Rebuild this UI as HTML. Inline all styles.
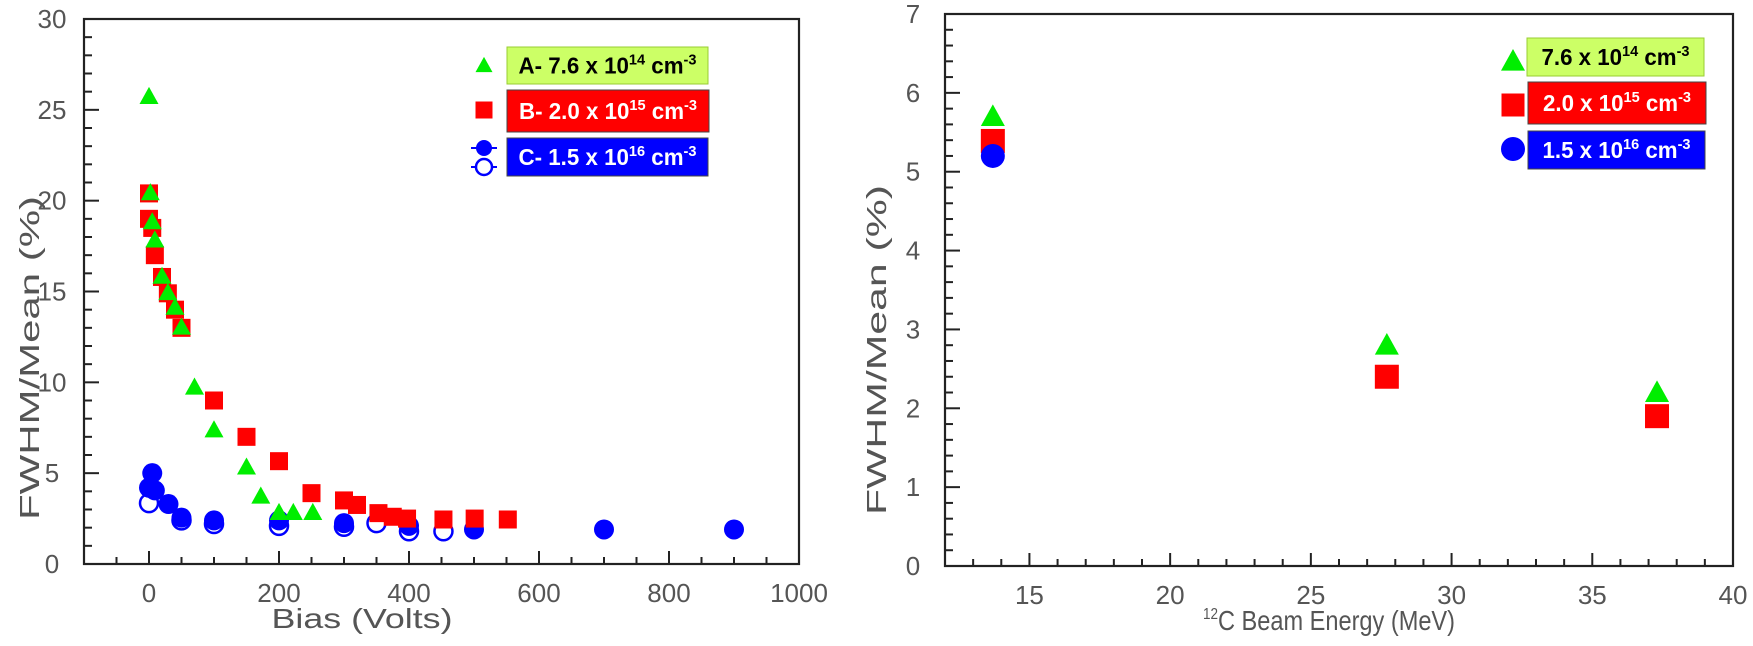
<!DOCTYPE html>
<html><head><meta charset="utf-8"><style>
html,body{margin:0;padding:0;background:#fff;}
svg{display:block;font-family:"Liberation Sans",sans-serif;}
</style></head><body>
<svg id="s" width="1753" height="646" viewBox="0 0 1753 646"></svg>
<script>
// Left chart data
const aX=[0,2,5,9,20,29,40,50,70,100,150,172,200,222,252];
const aY=[25.7,20.4,18.8,17.8,15.8,14.9,14.1,13.0,9.7,7.35,5.3,3.7,2.8,2.8,2.8];
const bX=[0,0,5,9,20,29,40,50,100,150,200,250,300,320,353,375,397,453,501,552];
const bY=[20.4,19.0,18.5,17.0,15.8,14.9,14.0,13.0,9.0,7.0,5.66,3.9,3.5,3.25,2.8,2.6,2.5,2.45,2.5,2.45];
const cOpenX=[0,50,100,200,300,350,400,453];
const cOpenY=[3.35,2.4,2.2,2.1,2.05,2.25,1.8,1.8];
const cX=[5,0,9,30,50,100,200,300,400,500,700,900];
const cY=[5.0,4.2,4.05,3.3,2.55,2.4,2.4,2.25,2.1,1.9,1.9,1.9];
const leftXTicks=[0,200,400,600,800,1000];
const leftYTicks=[0,5,10,15,20,25,30];
// Right chart data
const rX=[13.7,27.7,37.3];
const rA=[5.69,2.79,2.19];
const rB=[5.39,2.4,1.9];
const rCX=[13.7];
const rC=[5.2];
const rightXTicks=[15,20,25,30,35,40];
const rightYTicks=[0,1,2,3,4,5,6,7];

const NS="http://www.w3.org/2000/svg";
const svg=document.getElementById('s');
function mk(tag,at,parent){const e=document.createElementNS(NS,tag);for(const k in at)e.setAttribute(k,at[k]);(parent||svg).appendChild(e);return e;}

function axes(L,R,T,B,xmin,xmax,ymin,ymax,xt,yt,xminor,yminor,prefix){
  const sx=v=>L+(v-xmin)/(xmax-xmin)*(R-L);
  const sy=v=>B-(v-ymin)/(ymax-ymin)*(B-T);
  const g=mk('g',{});
  
  
  const fr=mk('rect',{x:L,y:T,width:R-L,height:B-T,fill:'none',stroke:'#222','stroke-width':2.2},g);
  
  
  for(let v=xmin;v<=xmax+1e-9;v+=xminor){
    const major=xt.some(t=>Math.abs(t-v)<1e-6);
    mk('line',{x1:sx(v),x2:sx(v),y1:B,y2:B-(major?13:7),stroke:'#222','stroke-width':2},g);
  }
  for(let v=ymin;v<=ymax+1e-9;v+=yminor){
    const major=yt.some(t=>Math.abs(t-v)<1e-6);
    mk('line',{x1:L,x2:L+(major?15:8),y1:sy(v),y2:sy(v),stroke:'#222','stroke-width':2},g);
  }
  xt.forEach(t=>{const e=mk('text',{x:sx(t),y:B+38,'text-anchor':'middle','font-size':26,fill:'#555'},g);e.textContent=t;
    
    });
  yt.forEach(t=>{const e=mk('text',{x:L-32,y:sy(t)+9,'text-anchor':'middle','font-size':26,fill:'#555'},g);e.textContent=t;
    
    });
  return {sx,sy};
}
function tri(x,y,s,name){const h=s*0.9;const e=mk('polygon',{points:`${x},${y-h*0.6} ${x-s/2},${y+h*0.4} ${x+s/2},${y+h*0.4}`,fill:'#00ee00'});
  
  }
function sq(x,y,s,name){const e=mk('rect',{x:x-s/2,y:y-s/2,width:s,height:s,fill:'#ff0000'});
  
  }
function circ(x,y,r,open,name){const e=mk('circle',{cx:x,cy:y,r:r,fill:open?'#fff':'#0000ff',stroke:'#0000ff','stroke-width':open?2.5:0});
  
  }

// LEFT CHART
const A=axes(84,799,19,564,-100,1000,0,30,leftXTicks,leftYTicks,50,1,'left');
cOpenX.forEach((x,i)=>circ(A.sx(x),A.sy(cOpenY[i]),9,true,'point-c-open'));
cX.forEach((x,i)=>circ(A.sx(x),A.sy(cY[i]),10,false,'point-c'));
bX.forEach((x,i)=>sq(A.sx(x),A.sy(bY[i]),18,'point-b'));
aX.forEach((x,i)=>tri(A.sx(x),A.sy(aY[i]),19,'point-a'));

// RIGHT CHART
const Bx=axes(945,1733,14,566,12,40,0,7,rightXTicks,rightYTicks,1,0.2,'right');
rX.forEach((x,i)=>sq(Bx.sx(x),Bx.sy(rB[i]),24,'point-b-right'));
rX.forEach((x,i)=>tri(Bx.sx(x),Bx.sy(rA[i]),24,'point-a-right'));
rCX.forEach((x,i)=>circ(Bx.sx(x),Bx.sy(rC[i]),12,false,'point-c-right'));

function label(x,y,txt,rot,name,len,fs){const e=mk('text',{x:x,y:y,'text-anchor':'middle','font-size':fs,fill:'#555',textLength:len,lengthAdjust:'spacingAndGlyphs',transform:rot?`rotate(-90 ${x} ${y})`:''});e.innerHTML=txt;
  
  return e;}
label(362,628,'Bias (Volts)',false,'left-x-axis-title',181,28);
label(39,358,'FWHM/Mean (%)',true,'left-y-axis-title',324,28);
label(1329,630,'<tspan font-size="16" dy="-11">12</tspan><tspan dy="11">C Beam Energy (MeV)</tspan>',false,'right-x-axis-title',252,28);
label(886,350,'FWHM/Mean (%)',true,'right-y-axis-title',330,28);

function legBox(x,y,w,h,fill,col,main,sup,name,tl){
  const g=mk('g',{});
  
  
  mk('rect',{x:x,y:y,width:w,height:h,fill:fill,stroke:fill=='#ccff66'?'#99cc33':'#444','stroke-width':1},g);
  const t=mk('text',{x:x+w/2,y:y+h/2+8,'text-anchor':'middle','font-size':23,'font-weight':'bold',fill:col,textLength:tl,lengthAdjust:'spacingAndGlyphs'},g);
  t.innerHTML=main+'<tspan font-size="15" dy="-9">'+sup[0]+'</tspan><tspan dy="9"> cm</tspan><tspan font-size="15" dy="-9">-3</tspan>';
}
legBox(507,47,201,37,'#ccff66','#000','A- 7.6 x 10',['14'],'legend-entry-a',178);
legBox(507,90,202,42,'#ff0000','#fff','B- 2.0 x 10',['15'],'legend-entry-b',178);
legBox(507,138,201,38,'#0000ff','#fff','C- 1.5 x 10',['16'],'legend-entry-c',178);
tri(484,66,17,'legend-marker-a');
sq(484,110,17,'legend-marker-b');
mk('line',{x1:471,x2:497,y1:148,y2:148,stroke:'#0000ff','stroke-width':2});
mk('line',{x1:471,x2:497,y1:167,y2:167,stroke:'#0000ff','stroke-width':2});
circ(484,148,8,false,'legend-marker-c');
circ(484,167,8,true,'legend-marker-c-open');

legBox(1527,38,177,38,'#ccff66','#000','7.6 x 10',['14'],'legend-right-a',148);
legBox(1528,82,178,42,'#ff0000','#fff','2.0 x 10',['15'],'legend-right-b',148);
legBox(1528,131,177,38,'#0000ff','#fff','1.5 x 10',['16'],'legend-right-c',148);
tri(1513,62,24,'legend-right-marker-a');
sq(1513,105,23,'legend-right-marker-b');
circ(1513,149,12,false,'legend-right-marker-c');
</script>
</body></html>
